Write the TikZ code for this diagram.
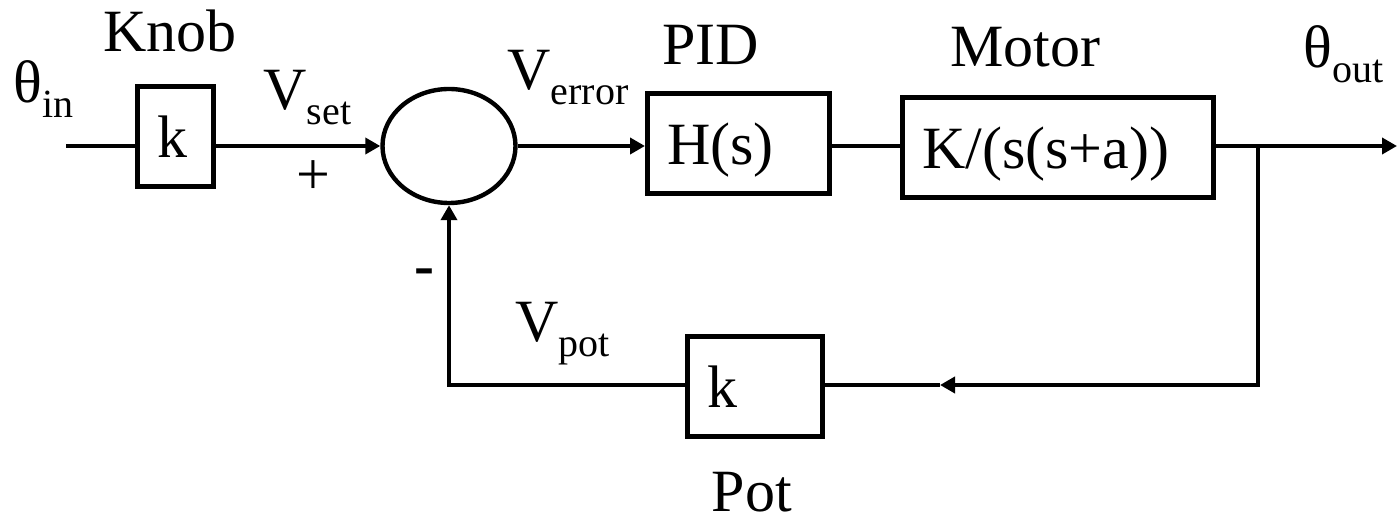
\documentclass[tikz,border=0pt]{standalone}
\usepackage{fontspec}
\setmainfont{Liberation Serif}
\usepackage{tikz}
\usetikzlibrary{positioning, arrows.meta, shapes.geometric}

\newcommand{\sbs}[1]{\raisebox{-7.5pt}{\fontsize{20}{20}\selectfont #1}}

\begin{document}
\begin{tikzpicture}[
    x=0.5pt, y=-0.5pt,
    font=\fontsize{30}{36}\selectfont,
    block/.style={draw, line width=2.3pt, anchor=north west, inner xsep=10pt, inner ysep=0pt,
                  text height=35.5pt, text depth=14.5pt, align=left},
    sumnode/.style={draw, ellipse, line width=2.2pt, minimum width=66.5pt, minimum height=57pt, inner sep=0pt},
    lbl/.style={inner sep=0pt, anchor=base west},
    wire/.style={line width=2.2pt},
    arrow/.style={-{Triangle[length=7.5pt,width=8pt]}, line width=2.2pt}
]
    \useasboundingbox (0,0) rectangle (1398,523);

    % Blocks
    \node[block, text width=18pt] (knob) at (135,84) {k};
    \node[sumnode] (sum) at (449,146) {};
    \node[block, text width=71pt] (pid) at (645,91) {H(s)};
    \node[block, text width=135.5pt] (motor) at (900,95) {K/(s(s+a))};
    \node[block, text width=47.5pt] (pot) at (685,334) {k};

    % Points on the wires
    \coordinate (in) at (66,146);
    \coordinate (out) at (1397,146);
    \coordinate (br) at (1258,146);
    \coordinate (fb) at (940,385);

    % Forward path
    \draw[wire] (in) -- (in -| knob.west);
    \draw[arrow] (knob.east |- in) -- (sum.west);
    \draw[arrow] (sum.east) -- (sum.east -| pid.west);
    \draw[wire] (pid.east |- in) -- (motor.west |- in);
    \draw[arrow] (motor.east |- in) -- (out);

    % Feedback path
    \draw[arrow] (br) |- (fb);
    \draw[wire] (fb) -- (pot.east |- fb);
    \draw[arrow] (pot.west |- fb) -| (sum.south);

    % Labels
    \node[lbl] (thetain) at (13,103) {θ\sbs{in}};
    \node[lbl] (knoblbl) at (103,52) {Knob};
    \node[lbl] (vset) at (263,110) {V\sbs{set}};
    \node[lbl, anchor=base] (plus) at (313,195) {+};
    \node[lbl] (verror) at (507,90) {V\sbs{error}};
    \node[lbl] (pidlbl) at (662,65) {PID};
    \node[lbl] (motorlbl) at (950,67) {Motor};
    \node[lbl] (thetaout) at (1303,68) {θ\sbs{out}};
    \node[lbl, anchor=base] (minus) at (424,286) {\textbf{-}};
    \node[lbl] (vpot) at (515,342) {V\sbs{pot}};
    \node[lbl, anchor=base] (potlbl) at (752,512) {Pot};
\end{tikzpicture}
\end{document}
